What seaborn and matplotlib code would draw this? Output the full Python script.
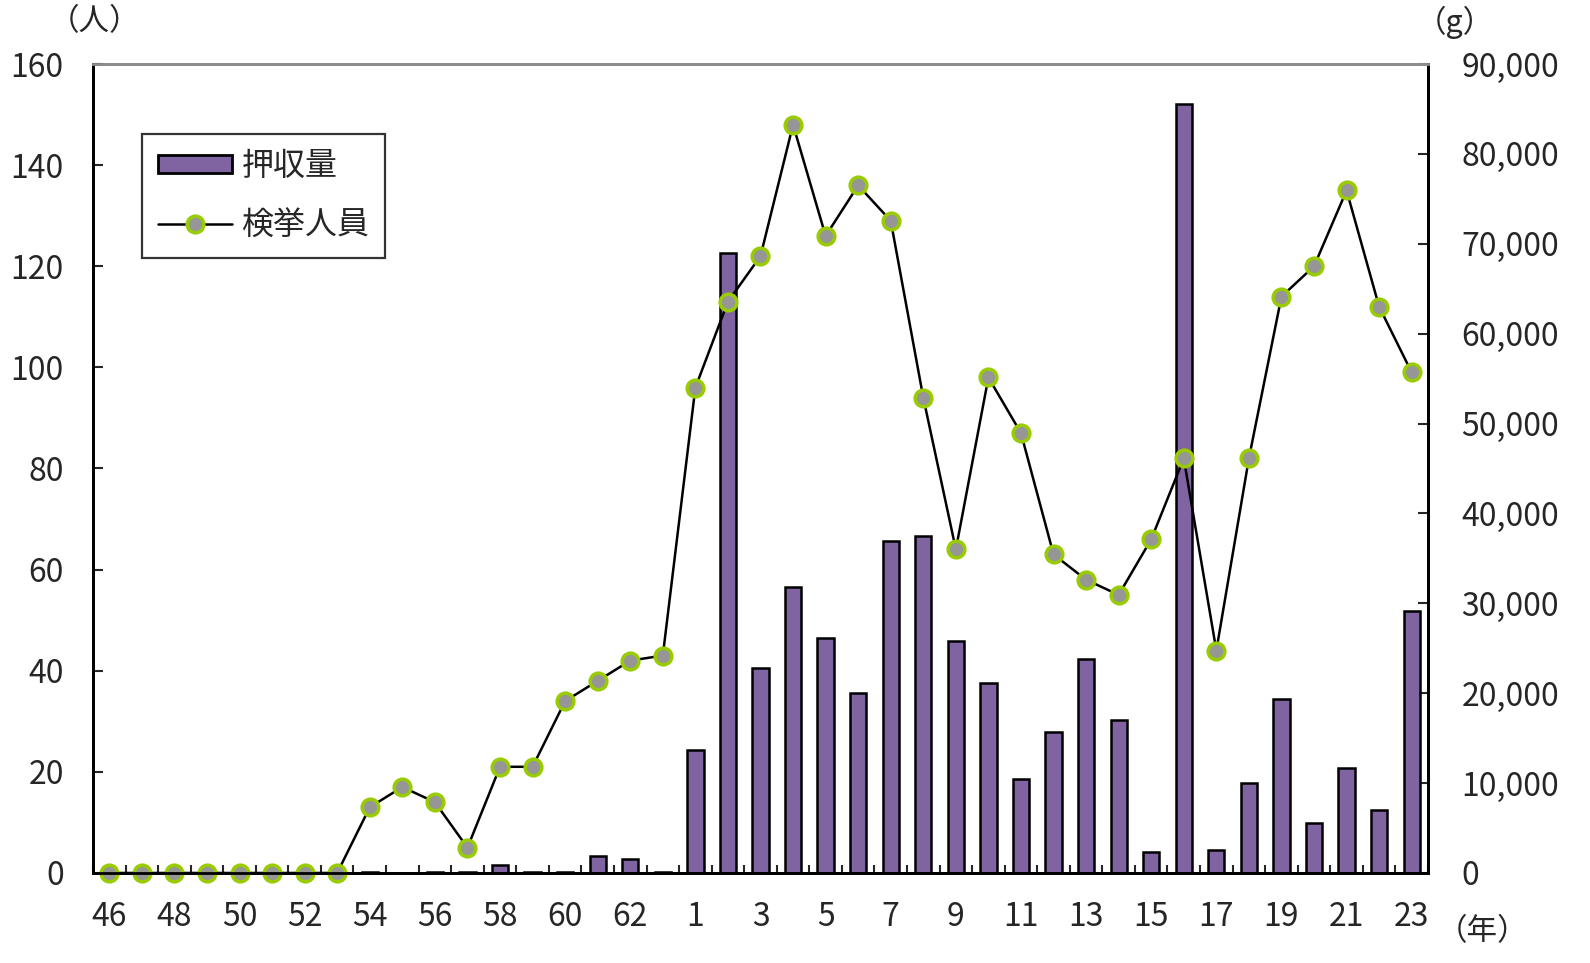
import numpy as np
import pandas as pd
import seaborn as sns
import matplotlib.pyplot as plt
from matplotlib.patches import Patch
from matplotlib.lines import Line2D
from matplotlib.ticker import StrMethodFormatter

# years: Showa 46-63, then Heisei 1-23
years = [str(y) for y in range(46, 64)] + [str(y) for y in range(1, 24)]

# seized amount (g), right axis
seized = [0, 0, 0, 0, 0, 0, 0, 0,
          100, 0, 100, 100, 900, 100, 100, 1900, 1500, 100,
          13700, 69000, 22800, 31800, 26100, 20000, 36900, 37500, 25800, 21100,
          10400, 15700, 23800, 17000, 2300, 85500, 2600, 10000, 19400, 5600,
          11700, 7000, 29200]

# persons arrested, left axis
arrests = [0, 0, 0, 0, 0, 0, 0, 0,
           13, 17, 14, 5, 21, 21, 34, 38, 42, 43,
           96, 113, 122, 148, 126, 136, 129, 94, 64, 98,
           87, 63, 58, 55, 66, 82, 44, 82, 114, 120,
           135, 112, 99]

bar_color = "#8064A2"
marker_face = "#969696"
marker_edge = "#99CC00"

df = pd.DataFrame({"year": years, "seized": seized, "arrests": arrests})
df["pos"] = np.arange(len(df))

sns.set_style("white")
plt.rcParams["font.family"] = ["Noto Sans CJK JP", "DejaVu Sans"]

fig = plt.figure(figsize=(15.9, 9.63), dpi=100)
ax1 = fig.add_axes([0.0585, 0.0935, 0.8396, 0.840])

# bars on the host axes (right-hand scale), line on the twin so it sits on top
sns.barplot(data=df, x="year", y="seized", order=years, color=bar_color,
            saturation=1, edgecolor="black", linewidth=1.8, width=0.5, ax=ax1)
ax1.set_ylim(0, 90000)
ax1.set_xlim(-0.5, len(years) - 0.5)
ax1.yaxis.tick_right()
ax1.yaxis.set_major_formatter(StrMethodFormatter("{x:,.0f}"))
ax1.set_yticks(np.arange(0, 90001, 10000))
ax1.set_xlabel("")
ax1.set_ylabel("")

ax2 = ax1.twinx()
sns.lineplot(data=df, x="pos", y="arrests", color="black", linewidth=1.8,
             marker="o", markersize=12, markerfacecolor=marker_face,
             markeredgecolor=marker_edge, markeredgewidth=2.5, ax=ax2)
for ln in ax2.lines:
    ln.set_clip_on(False)
ax2.set_ylim(0, 160)
ax2.set_yticks(np.arange(0, 161, 20))
ax2.yaxis.tick_left()
ax2.set_xlabel("")
ax2.set_ylabel("")

# x ticks: labels every other year, small inward ticks between categories
ax1.set_xticks(np.arange(0, len(years), 2))
ax1.set_xticklabels(years[::2])
ax1.set_xticks(np.arange(-0.5, len(years), 1), minor=True)
ax1.tick_params(axis="x", which="major", length=0, pad=20, labelsize=23)
ax1.tick_params(axis="x", which="minor", direction="in", length=6, width=1.5,
                top=False, bottom=True)
ax1.tick_params(axis="y", which="major", direction="in", length=7, width=1.5,
                right=True, left=False, labelright=True, labelleft=False,
                pad=24, labelsize=23)
ax2.tick_params(axis="y", which="major", direction="in", length=7, width=1.5,
                left=True, right=False, labelleft=True, labelright=False,
                pad=21, labelsize=23)
ax2.tick_params(axis="x", which="both", bottom=False, top=False,
                labelbottom=False)

for ax in (ax1, ax2):
    for side in ("left", "right", "bottom"):
        ax.spines[side].set_color("black")
        ax.spines[side].set_linewidth(2)
    ax.spines["top"].set_color("#8C8C8C")
    ax.spines["top"].set_linewidth(2)

handles = [
    Patch(facecolor=bar_color, edgecolor="black", linewidth=2, label="押収量"),
    Line2D([0], [0], color="black", linewidth=1.8, marker="o", markersize=12,
           markerfacecolor=marker_face, markeredgecolor=marker_edge,
           markeredgewidth=2.5, label="検挙人員"),
]
leg = ax2.legend(handles=handles, loc="upper left", bbox_to_anchor=(0.037, 0.913),
                 borderaxespad=0, frameon=True, fancybox=False, fontsize=23,
                 handlelength=2.3, handleheight=0.5, labelspacing=0.85,
                 borderpad=0.5, handletextpad=0.3)
leg.get_frame().set_edgecolor("black")
leg.get_frame().set_linewidth(1.6)

fig.text(95 / 1590, 1 - 22 / 963, "（人）", fontsize=22, ha="center", va="center")
fig.text(1455 / 1590, 1 - 22 / 963, "（g）", fontsize=22, ha="center", va="center")
fig.text(1482 / 1590, 1 - 932 / 963, "（年）", fontsize=22, ha="center", va="center")

fig.savefig("out.png", dpi=100)
